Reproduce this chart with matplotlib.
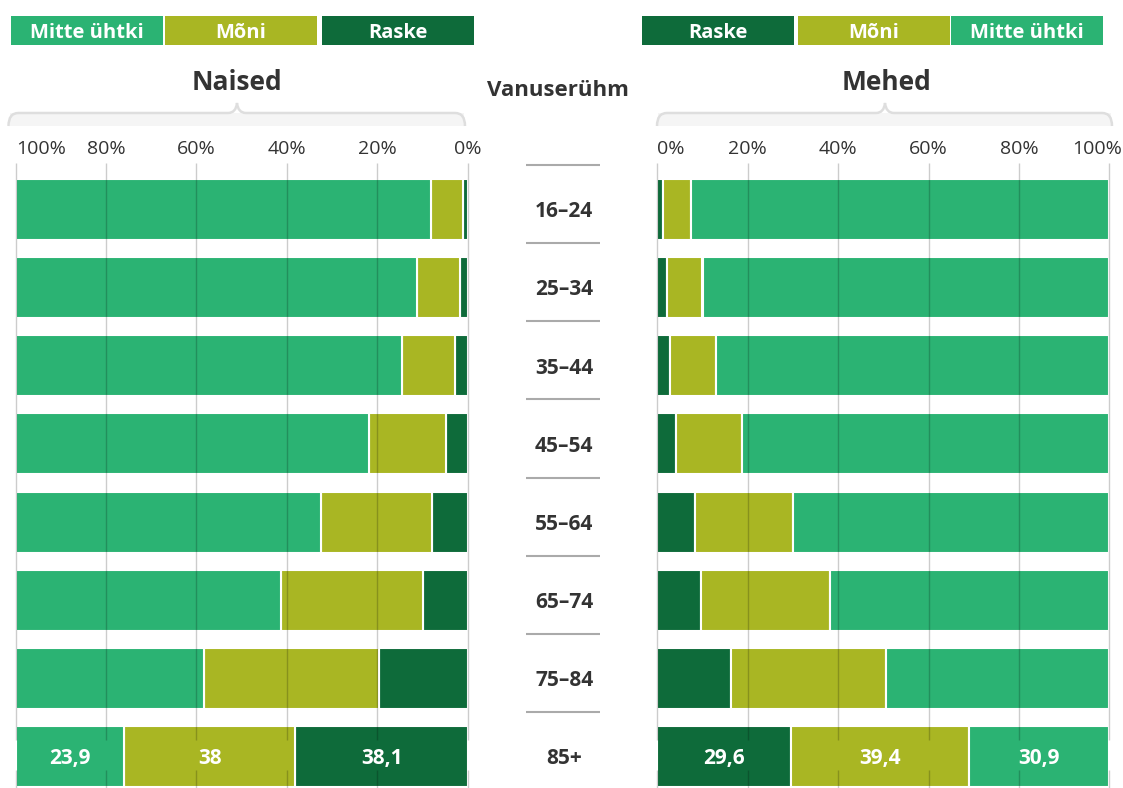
import numpy as np
import matplotlib
matplotlib.use("Agg")
import matplotlib.pyplot as plt
from matplotlib.patches import Rectangle, PathPatch
from matplotlib.path import Path

plt.rcParams['font.family'] = ['Open Sans', 'DejaVu Sans']

# --- data (percent) ---
age_groups = ["16–24", "25–34", "35–44", "45–54", "55–64", "65–74", "75–84", "85+"]
categories = ["Mitte ühtki", "Mõni", "Raske"]

women_raske = [1.0, 1.7, 2.8, 4.9, 7.8, 10.0, 19.7, 38.1]
women_moni = [7.2, 9.5, 11.8, 16.9, 24.7, 31.2, 38.6, 38.0]
women_mitte = [91.8, 88.8, 85.4, 78.2, 67.5, 58.8, 41.7, 23.9]

men_raske = [1.2, 2.1, 2.7, 4.2, 8.3, 9.7, 16.3, 29.6]
men_moni = [6.2, 7.9, 10.3, 14.5, 21.8, 28.4, 34.2, 39.4]
men_mitte = [92.6, 90.0, 87.0, 81.3, 69.9, 61.9, 49.5, 30.9]

ticks = [0, 20, 40, 60, 80, 100]
tick_labels = ["0%", "20%", "40%", "60%", "80%", "100%"]

colors = {"Mitte ühtki": "#2bb373", "Mõni": "#a9b623", "Raske": "#0e6b3a"}
TXT = "#333333"

W, H = 1123, 788
fig = plt.figure(figsize=(W / 100, H / 100), dpi=100)


def px_axes(x0, x1, y0, y1, **kw):
    return fig.add_axes([x0 / W, 1 - y1 / H, (x1 - x0) / W, (y1 - y0) / H], **kw)


YTOP, YBOT = -0.595, 7.403
TSHIFT = 0.03  # small downward nudge for centred text


def fmt(v):
    return f"{v:g}".replace(".", ",")


def draw_panel(ax, raske, moni, mitte, reverse):
    y = np.arange(len(age_groups))
    left = np.zeros(len(y))
    for name, vals in [("Raske", raske), ("Mõni", moni), ("Mitte ühtki", mitte)]:
        vals = np.array(vals)
        ax.barh(y, vals, left=left, height=0.78, color=colors[name],
                edgecolor="white", linewidth=1.5, zorder=2)
        ax.text(left[-1] + vals[-1] / 2, y[-1] + TSHIFT, fmt(vals[-1]), ha="center",
                va="center", color="white", fontsize=15, fontweight="bold", zorder=4)
        left += vals
    ax.set_xlim((100, 0) if reverse else (0, 100))
    ax.set_ylim(YBOT, YTOP)
    ax.vlines(ticks, YTOP, 6.79, color="black", alpha=0.2, lw=1, zorder=3, clip_on=False)
    ax.vlines(ticks, 7.17, YBOT, color="black", alpha=0.2, lw=1, zorder=3, clip_on=False)
    ax.axis("off")
    n = len(ticks)
    for i, (t, lab) in enumerate(zip(ticks, tick_labels)):
        ha, dx = "center", 0
        if reverse and i == n - 1:
            ha = "left"
        if not reverse and i == 0:
            ha = "left"
        if not reverse and i == n - 1:
            ha, dx = "right", 9
        ax.annotate(lab, xy=(t, 1), xycoords=("data", "axes fraction"),
                    xytext=(dx, 10), textcoords="offset points",
                    ha=ha, va="center", fontsize=14, color=TXT)


axL = px_axes(15.7, 467.7, 163, 788)
draw_panel(axL, women_raske, women_moni, women_mitte, reverse=True)
axR = px_axes(657.3, 1109.3, 163, 788)
draw_panel(axR, men_raske, men_moni, men_mitte, reverse=False)

# middle column with age groups
axM = px_axes(470, 655, 163, 788)
axM.set_xlim(0, 1)
axM.set_ylim(YBOT, YTOP)
axM.axis("off")
ym = np.arange(len(age_groups))
axM.hlines(ym - 0.57, 0.303, 0.703, color="#aaaaaa", lw=1.5)
for yy, lab in zip(ym, age_groups):
    axM.text(0.51, yy + TSHIFT, lab, ha="center", va="center", fontsize=15,
             fontweight="bold", color=TXT)

# overlay for headers, braces, legends
ov = fig.add_axes([0, 0, 1, 1], zorder=-1)
ov.set_xlim(0, W)
ov.set_ylim(H, 0)
ov.axis("off")

ov.text(236.5, 82, "Naised", ha="center", va="center", fontsize=19,
        fontweight="bold", color=TXT)
ov.text(887, 82, "Mehed", ha="center", va="center", fontsize=19,
        fontweight="bold", color=TXT)
ov.text(557.5, 90, "Vanuserühm", ha="center", va="center", fontsize=16,
        fontweight="bold", color=TXT)


def brace(x0, x1, xm, ytop=113, ybot=126, ypeak=103):
    ov.add_patch(Rectangle((x0 + 1, ytop), x1 - x0 - 2, ybot - ytop,
                           facecolor="#f5f5f5", edgecolor="none"))
    verts = [(x0, ybot), (x0, ytop), (x0 + 10, ytop),
             (xm - 9, ytop),
             (xm - 1, ytop), (xm, ypeak),
             (xm + 1, ytop), (xm + 9, ytop),
             (x1 - 10, ytop),
             (x1, ytop), (x1, ybot)]
    codes = [Path.MOVETO, Path.CURVE3, Path.CURVE3,
             Path.LINETO,
             Path.CURVE3, Path.CURVE3,
             Path.CURVE3, Path.CURVE3,
             Path.LINETO,
             Path.CURVE3, Path.CURVE3]
    ov.add_patch(PathPatch(Path(verts, codes), facecolor="none",
                           edgecolor="#dedede", lw=1.8))


brace(8.5, 465, 237)
brace(657, 1112, 885)


def legend(order, starts, width=152):
    for name, x in zip(order, starts):
        ov.add_patch(Rectangle((x, 16), width, 28.5, facecolor=colors[name],
                               edgecolor="none"))
        ov.text(x + width / 2, 32.5, name, ha="center", va="center", fontsize=14.5,
                fontweight="bold", color="white")


legend(categories, [11, 165, 322])
legend(categories[::-1], [642, 798, 951])

fig.savefig("out.png", dpi=100)
